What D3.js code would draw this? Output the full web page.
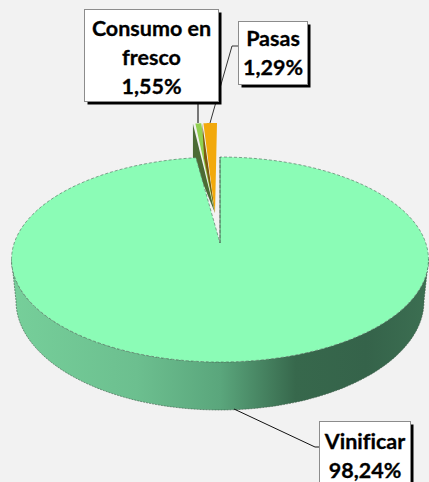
<!DOCTYPE html>
<html>
<head>
<meta charset="utf-8">
<script src="https://cdn.jsdelivr.net/npm/d3@7"></script>
<style>
html, body { margin: 0; padding: 0; background: #f2f2f2; overflow: hidden; }
svg { display: block; }
text { font-family: Lato, "Open Sans", sans-serif; font-weight: 700; font-variant-ligatures: none; fill: #000; stroke: #000; stroke-width: 0.3; text-anchor: middle; }
</style>
</head>
<body>
<svg id="chart" width="429" height="482"></svg>
<script>
const categories = ["Vinificar", "Consumo en fresco", "Pasas"];
const shares = [98.24, 1.55, 1.29];
const shareLabels = ["98,24%", "1,55%", "1,29%"];

const w = 429, h = 482;
const svg = d3.select("#chart");
const defs = svg.append("defs");

// perspective ellipse: the pie centre does not sit in the middle of the ellipse
function ring(top, apex, bottom, halfWidth, cx) {
    const C = ((apex - top) - (bottom - apex)) / (bottom - top);
    const A = apex - top + top * C;
    const R = halfWidth * Math.sqrt(1 - C * C);
    return a => {
        const x = Math.sin(a), y = -Math.cos(a), den = 1 + C * y;
        return [cx + R * x / den, (A * y + apex) / den];
    };
}
const topRim = ring(157, 243, 362, 208.5, 220);
const baseRim = ring(192, 284, 410, 204, 220);

const arcs = d3.pie().sort(null).value(d => d)(shares);
const deg = d => d * Math.PI / 180;

// small slices read narrower than their share once exploded
const angle = d3.scaleLinear()
    .domain([0, arcs[0].endAngle, arcs[1].endAngle, 2 * Math.PI])
    .range([0, deg(352.2), deg(355.2), deg(360)]);

const line = d3.line();
const sweep = (f, a0, a1) => d3.range(0, 121).map(i => f(a0 + (a1 - a0) * i / 120));
const lift = { x: -3, y: -34 };
const moved = p => [p[0] + lift.x, p[1] + lift.y];
const apexTop = [220, 243];
const tip = moved([apexTop[0] - 2, apexTop[1] + 4]);

// wall gradient
const wallColors = [[0, "#76cf9a"], [0.3, "#6cbf8f"], [0.5, "#5aa67c"], [0.68, "#37684c"], [0.85, "#35634a"], [1, "#3c6f52"]];
const grad = defs.append("linearGradient").attr("id", "wall")
    .attr("gradientUnits", "userSpaceOnUse")
    .attr("x1", 12).attr("x2", w).attr("y1", 0).attr("y2", 0);
grad.selectAll("stop").data(wallColors).join("stop")
    .attr("offset", d => d[0]).attr("stop-color", d => d[1]);

// exploded slices, behind the main face
function cutWall(a, dy, dx) {
    const rim = moved(topRim(a));
    return line([rim, [rim[0] + dx, rim[1] + dy], tip]) + "Z";
}
function face(a0, a1) {
    return line([tip].concat(sweep(p => moved(topRim(p)), a0, a1))) + "Z";
}
const consumoA = [angle(arcs[1].startAngle), angle(arcs[1].endAngle)];
const pasasA = [angle(arcs[2].startAngle), angle(arcs[2].endAngle)];

svg.append("path").attr("d", cutWall(consumoA[0], 35, 0)).attr("fill", "#4b6b34");
svg.append("path").attr("d", face(consumoA[0] + deg(0.8), consumoA[1] - deg(0.3))).attr("fill", "#92d050");
svg.append("path").attr("d", cutWall(pasasA[0], 35, 2)).attr("fill", "#7a5a10");
svg.append("path").attr("d", face(pasasA[0] + deg(0.4), pasasA[1])).attr("fill", "#f2a90c");

// main wall
const wallPts = sweep(topRim, deg(99), deg(261)).concat(sweep(baseRim, deg(261), deg(99)));
svg.append("path").attr("d", line(wallPts) + "Z")
    .attr("fill", "url(#wall)")
    .attr("stroke", "#3a5a46").attr("stroke-width", 0.6).attr("stroke-dasharray", "2 1");

// main face
svg.append("path")
    .attr("d", line([apexTop].concat(sweep(topRim, angle(arcs[0].startAngle), angle(arcs[0].endAngle)))) + "Z")
    .attr("fill", "#8bfcb6")
    .attr("stroke", "#5c7d68").attr("stroke-width", 0.7).attr("stroke-dasharray", "3 2");
svg.append("path")
    .attr("d", line([apexTop, topRim(0)]))
    .attr("stroke", "#3d5a48").attr("stroke-width", 0.8);

// leaders
const leaders = [
    { pts: [[232, 46], [238, 46]], c: "#333", sw: 1 },
    { pts: [[232, 46], [210, 123]], c: "#333", sw: 1 },
    { pts: [[198, 100], [198, 123]], c: "#777", sw: 2 },
    { pts: [[234, 409], [315, 447], [320, 447]], c: "#111", sw: 1 }
];
svg.selectAll("path.leader").data(leaders).join("path")
    .attr("class", "leader")
    .attr("d", d => line(d.pts))
    .attr("fill", "none")
    .attr("stroke", d => d.c).attr("stroke-width", d => d.sw);

// labels
const boxes = [
    { x: 319.5, y: 421.5, w: 91, h: 66, lines: [categories[0], shareLabels[0]], y0: 449 },
    { x: 238.5, y: 21.5, w: 69, h: 63, lines: [categories[2], shareLabels[2]], y0: 46 },
    { x: 84.5, y: 9.5, w: 134, h: 92, lines: ["Consumo en", "fresco", shareLabels[1]], y0: 36 }
];
const lab = svg.selectAll("g.lab").data(boxes).join("g").attr("class", "lab");
lab.append("rect").attr("x", d => d.x + 3).attr("y", d => d.y + 3)
    .attr("width", d => d.w).attr("height", d => d.h).attr("fill", "#000");
lab.append("rect").attr("x", d => d.x).attr("y", d => d.y)
    .attr("width", d => d.w).attr("height", d => d.h)
    .attr("fill", "#fff").attr("stroke", "#8c8c8c");
lab.each(function(d) {
    d3.select(this).selectAll("text").data(d.lines).join("text")
        .attr("x", d.x + d.w / 2)
        .attr("y", (t, i) => d.y0 + i * 29)
        .attr("font-size", 21.5)
        .text(t => t);
});
</script>
</body>
</html>
